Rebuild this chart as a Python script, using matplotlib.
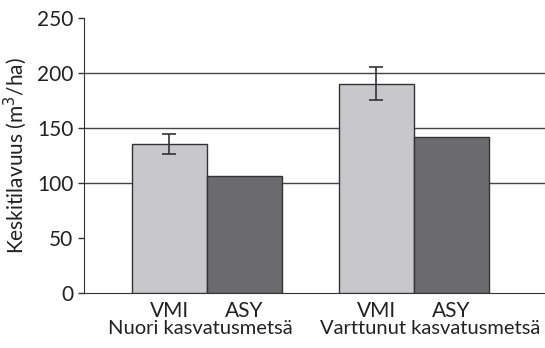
import matplotlib.pyplot as plt
import numpy as np

# --- Datos ---
ryhmat = ['Nuori kasvatusmetsä', 'Varttunut kasvatusmetsä']
lahteet = ['VMI', 'ASY']
vmi = [135.5, 190.5]
vmi_err = [9, 15]
asy = [106, 142]
yticks = [0, 50, 100, 150, 200, 250]

plt.rcParams['font.family'] = ['Lato', 'DejaVu Sans']

fig = plt.figure(figsize=(5.45, 3.48), dpi=100)
ax = fig.add_axes([0.154, 0.158, 0.846, 0.79])

x = np.arange(len(ryhmat))
w = 0.362

# --- Pylväät ---
ax.bar(x - w/2, vmi, w, color='#c8c8ca', edgecolor='#333333', linewidth=1.0, zorder=3)
ax.bar(x + w/2, asy, w, color='#6b6b6e', edgecolor='#333333', linewidth=1.0, zorder=3)
ax.errorbar(x - w/2, vmi, yerr=vmi_err, fmt='none', ecolor='#333333',
            elinewidth=1.2, capsize=4.7, capthick=1.2, zorder=4)

# --- Akselit ---
ax.set_xlim(-0.594, 1.633)
ax.set_ylim(0, 250)
ax.set_yticks(yticks)
for y in yticks[2:5]:
    ax.axhline(y, color='#444444', linewidth=1.0, zorder=1)

for s in ['top', 'right']:
    ax.spines[s].set_visible(False)
ax.spines['left'].set_color('#333333')
ax.spines['bottom'].set_color('#333333')

ax.set_xticks(np.concatenate([x - w/2, x + w/2]))
ax.set_xticklabels(lahteet[:1] * len(x) + lahteet[1:] * len(x))
ax.tick_params(axis='x', length=0, pad=6, labelsize=15, colors='#222222')
ax.tick_params(axis='y', length=4, width=1, direction='out', labelsize=15,
               colors='#333333', labelcolor='#222222')

# ryhmien nimet toisena rivinä
siirto = [-0.03, 0.08]
for xi, d, nimi in zip(x, siirto, ryhmat):
    ax.text(xi + d, -0.098, nimi, transform=ax.get_xaxis_transform(),
            ha='center', va='top', fontsize=14.5, color='#222222')

ax.set_ylabel('Keskitilavuus (m$^3$/ha)', fontsize=15, color='#222222', labelpad=6)

fig.savefig('out.png', dpi=100)
